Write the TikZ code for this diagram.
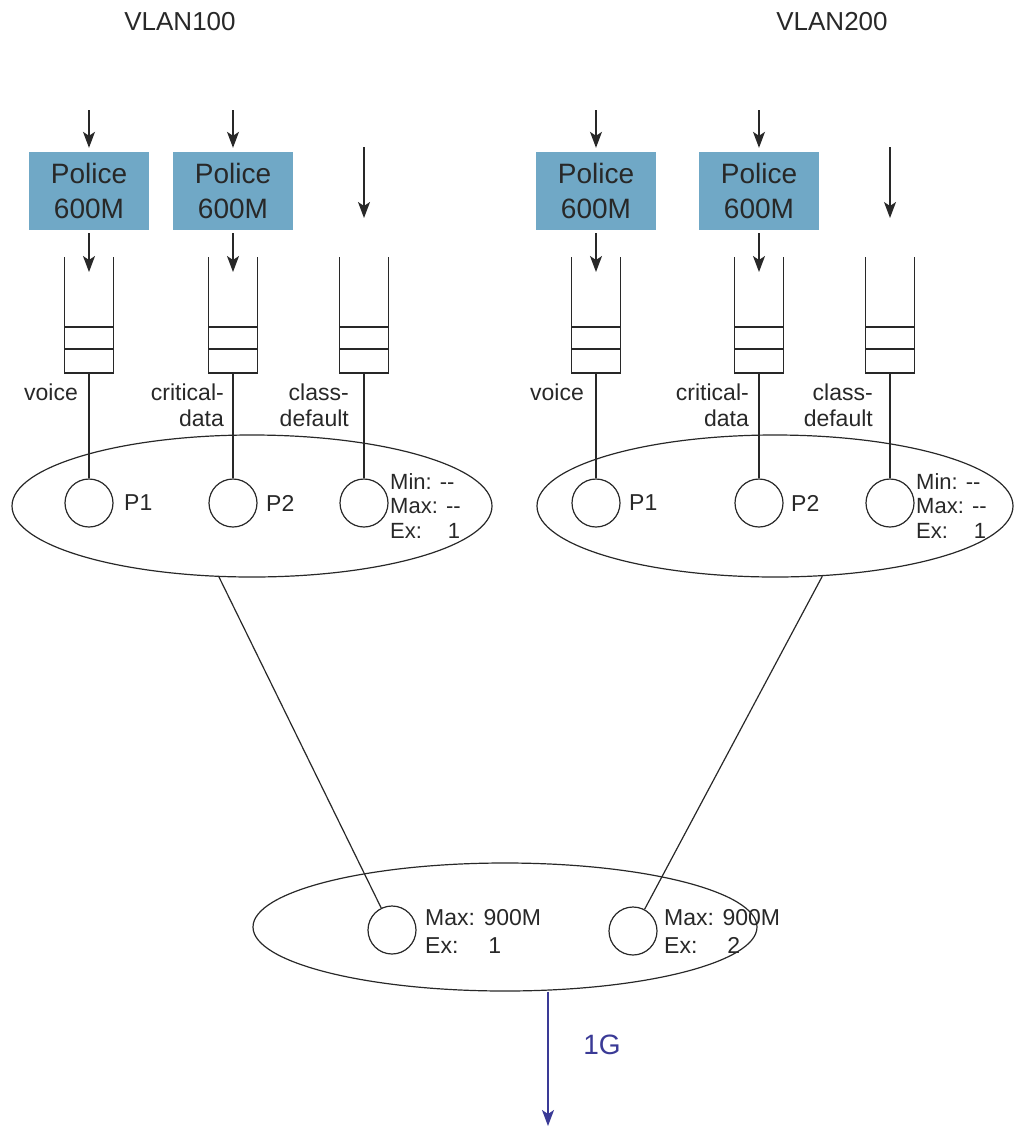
\documentclass[tikz,border=0pt]{standalone}
\usepackage{fontspec}
\setmainfont{Liberation Sans}
\usetikzlibrary{shapes.geometric, arrows.meta, positioning}

\definecolor{policeblue}{RGB}{112,168,198}
\definecolor{linkblue}{RGB}{58,58,150}
\definecolor{ink}{RGB}{40,40,40}

\tikzset{
  flow/.style={-{Stealth[length=16pt,width=12pt,inset=4pt]}, line width=1.3pt, draw=ink},
  wire/.style={line width=1.2pt, draw=ink},
  police/.style={fill=policeblue, minimum width=120pt, minimum height=78pt, inner sep=0pt,
    align=center, font=\fontsize{28}{35}\selectfont, text=ink},
  prio/.style={circle, draw=ink, line width=1.2pt, minimum size=48pt, inner sep=0pt},
  sched/.style={ellipse, draw=ink, line width=1.2pt, inner sep=0pt},
  lbl/.style={font=\fontsize{23}{26}\selectfont, text=ink, inner sep=0pt},
  param/.style={font=\fontsize{22}{24.5}\selectfont, text=ink, inner sep=0pt, align=left, anchor=west},
  fifo/.pic={
    \draw[wire] (-24.5,-116) -- (-24.5,0) -- (24.5,0) -- (24.5,-116);
    \draw[wire] (-24.5,-24) -- (24.5,-24) (-24.5,-46) -- (24.5,-46);
    \coordinate (-out) at (0,0);
  }
}

\begin{document}
\begin{tikzpicture}[x=1pt, y=-1pt]
\useasboundingbox (0,0) rectangle (1013,1128);

% VLAN headings
\node[lbl, font=\fontsize{26}{30}\selectfont] (vlanA) at (180,22) {VLAN100};
\node[lbl, font=\fontsize{26}{30}\selectfont] (vlanB) at (832,22) {VLAN200};

% policers
\node[police] (polA1) at (89,191) {Police\\600M};
\node[police] (polA2) at (233,191) {Police\\600M};
\node[police] (polB1) at (596,191) {Police\\600M};
\node[police] (polB2) at (759,191) {Police\\600M};

% incoming traffic
\coordinate (inA1) at (89,110);
\coordinate (inA2) at (233,110);
\coordinate (inA3) at (364,147);
\coordinate (inB1) at (596,110);
\coordinate (inB2) at (759,110);
\coordinate (inB3) at (890,147);
\coordinate (dropA1) at (89,272);
\coordinate (dropA2) at (233,272);
\coordinate (dropA3) at (364,218);
\coordinate (dropB1) at (596,272);
\coordinate (dropB2) at (759,272);
\coordinate (dropB3) at (890,218);

\draw[flow, shorten >=4pt] (inA1) -- (polA1);
\draw[flow, shorten >=4pt] (inA2) -- (polA2);
\draw[flow, shorten >=4pt] (inB1) -- (polB1);
\draw[flow, shorten >=4pt] (inB2) -- (polB2);
\draw[flow, shorten <=3pt] (polA1) -- (dropA1);
\draw[flow, shorten <=3pt] (polA2) -- (dropA2);
\draw[flow, shorten <=3pt] (polB1) -- (dropB1);
\draw[flow, shorten <=3pt] (polB2) -- (dropB2);
\draw[flow] (inA3) -- (dropA3);
\draw[flow] (inB3) -- (dropB3);

% queues
\pic (qA1) at (89,373) {fifo};
\pic (qA2) at (233,373) {fifo};
\pic (qA3) at (364,373) {fifo};
\pic (qB1) at (596,373) {fifo};
\pic (qB2) at (759,373) {fifo};
\pic (qB3) at (890,373) {fifo};

\node[lbl, anchor=east] (voiceA) at (78,392) {voice};
\node[lbl, anchor=east, align=right] (critA) at (224,405) {critical-\\data};
\node[lbl, anchor=east, align=right] (defA) at (349,405) {class-\\default};
\node[lbl, anchor=east] (voiceB) at (584,392) {voice};
\node[lbl, anchor=east, align=right] (critB) at (749,405) {critical-\\data};
\node[lbl, anchor=east, align=right] (defB) at (873,405) {class-\\default};

% child schedulers
\node[sched, minimum width=480pt, minimum height=142pt] (grpA) at (252,506) {};
\node[sched, minimum width=476pt, minimum height=142pt] (grpB) at (775,506) {};

\node[prio] (cA1) at (89,503) {};
\node[prio] (cA2) at (233,503) {};
\node[prio] (cA3) at (364,503) {};
\node[prio] (cB1) at (596,503) {};
\node[prio] (cB2) at (759,503) {};
\node[prio] (cB3) at (890,503) {};

\draw[wire] (qA1-out) -- (cA1);
\draw[wire] (qA2-out) -- (cA2);
\draw[wire] (qA3-out) -- (cA3);
\draw[wire] (qB1-out) -- (cB1);
\draw[wire] (qB2-out) -- (cB2);
\draw[wire] (qB3-out) -- (cB3);

\node[lbl, anchor=west] (pA1) at (124,503) {P1};
\node[lbl, anchor=west] (pA2) at (266,503) {P2};
\node[lbl, anchor=west] (pB1) at (629,503) {P1};
\node[lbl, anchor=west] (pB2) at (791,503) {P2};
\node[param] (limA) at (390,506) {Min: -{}-\\Max: -{}-\\Ex:\hspace{26pt}1};
\node[param] (limB) at (916,506) {Min: -{}-\\Max: -{}-\\Ex:\hspace{26pt}1};

% parent scheduler
\node[sched, minimum width=504pt, minimum height=128pt] (root) at (505,927) {};
\node[prio] (rA) at (392,930) {};
\node[prio] (rB) at (633,931) {};
\node[param, font=\fontsize{23}{28}\selectfont] (shA) at (425,931) {Max: 900M\\Ex:\hspace{30pt}1};
\node[param, font=\fontsize{23}{28}\selectfont] (shB) at (664,931) {Max: 900M\\Ex:\hspace{30pt}2};

\draw[wire] (grpA.245) -- (rA);
\draw[wire] (grpB.304) -- (rB);

% uplink
\coordinate (sink) at (548,1126);
\draw[flow, draw=linkblue, -{Stealth[length=16pt,width=12pt,inset=4pt]}] (root.south -| sink) -- (sink);
\node[lbl, font=\fontsize{28}{32}\selectfont, text=linkblue] (rate) at (602,1045) {1G};
\end{tikzpicture}
\end{document}
